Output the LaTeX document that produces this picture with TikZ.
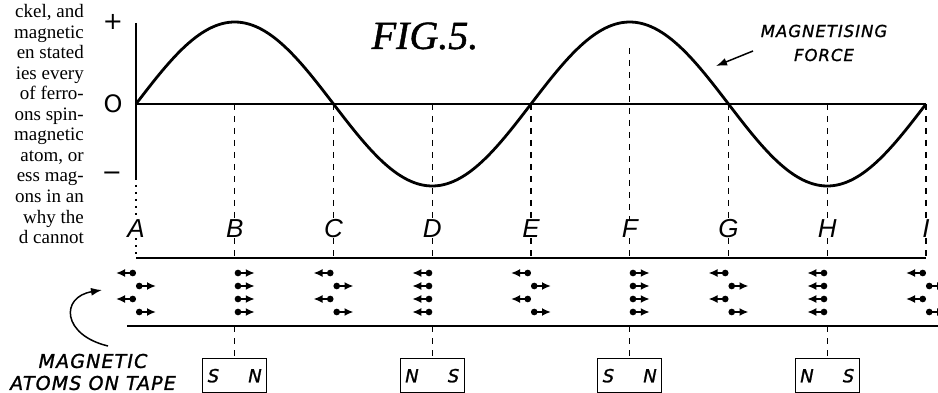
\documentclass[tikz,border=0pt]{standalone}
\usepackage{fontspec}
\setmainfont{Liberation Serif}
\newfontfamily\bodyfont{Liberation Serif}
\newfontfamily\titlefont{Liberation Serif}[FakeBold=1.2]
\newfontfamily\lettering{DejaVu Sans}[LetterSpace=6]
\newfontfamily\heavylettering{DejaVu Sans}[LetterSpace=6, FakeBold=1.2]
\newfontfamily\labelfont{Liberation Sans}
\usetikzlibrary{arrows.meta, positioning}

\begin{document}
\begin{tikzpicture}[x=1pt, y=-1pt,
    axis/.style={line width=1.8pt},
    wave/.style={line width=2.8pt},
    guide/.style={line width=1.1pt, dash pattern=on 6pt off 6pt},
    spin/.style={line width=2.3pt, {Circle[length=6.5pt]}-{Latex[length=9pt, width=8pt]}},
    tape/.style={line width=1.7pt},
    pointer/.style={line width=1.5pt, -{Latex[length=11pt, width=8pt]}},
    magnet/.style={draw, line width=1.4pt, minimum height=34pt, text width=54pt,
                   inner sep=5pt, font=\heavylettering\itshape\fontsize{18}{20}\selectfont},
    station/.style={font=\labelfont\itshape\fontsize{26}{28}\selectfont, inner sep=0pt},
    sign/.style={font=\lettering\fontsize{24}{26}\selectfont, inner sep=0pt},
    caption/.style={align=center, inner sep=0pt},
    colline/.style={anchor=base east, inner sep=0pt, font=\bodyfont\fontsize{19}{21}\selectfont}
  ]
  \useasboundingbox (0,0) rectangle (938,393);

  % cut-off text column on the left
  \foreach \txt [count=\i from 0] in {{ckel, and},{magnetic},{en stated},{ies every},
      {of ferro-},{ons spin-},{magnetic},{atom, or},{ess mag-},{ons in an},{why the},{d cannot}}
    \node[colline] (col-\i) at (84,18+20.5*\i) {\txt};

  % axes and signs
  \draw[axis] (136,23) -- (136,178);
  \draw[axis] (136,104) -- (926,104);
  \node[sign] (plus) at (113,22) {+};
  \node[sign] (zero) at (113,104) {O};
  \node[sign] (minus) at (112,176) {−};

  % magnetising force
  \draw[wave] plot[domain=0:790, samples=240] ({136+\x}, {104-82*sin(\x*0.911392)});

  \node[font=\titlefont\itshape\fontsize{40}{40}\selectfont, inner sep=0pt] (title) at (425,36) {FIG.5.};
  \node[caption, font=\heavylettering\itshape\fontsize{16.5}{24}\selectfont] (mforce) at (824,43)
    {MAGNETISING\\FORCE};
  \coordinate (mtail) at (753,51);
  \coordinate (mhead) at (716,66);
  \draw[pointer] (mtail) -- (mhead);

  % tape
  \draw[tape] (136,258) -- (926,258);
  \draw[tape] (127,326) -- (938,326);

  % positions A..I with the atoms under each
  \foreach \l/\dirs/\top [count=\i from 0] in {A/{-1,1,-1,1}/178, B/{1,1,1,1}/104,
      C/{-1,1,-1,1}/104, D/{-1,-1,-1,-1}/104, E/{-1,1,-1,1}/104, F/{1,1,1,1}/48,
      G/{-1,1,-1,1}/104, H/{-1,-1,-1,-1}/104, I/{-1,1,-1,1}/104} {
    \ifnum\i=0 \tikzset{guide/.style={line width=1.3pt, dash pattern=on 2pt off 5pt}}\fi
    \pgfmathsetmacro\px{136+98.75*\i}
    \node[station] (lbl-\l) at (\px,229) {\l};
    \draw[guide] (\px,\top) -- (lbl-\l.north);
    \draw[guide] (lbl-\l.south) -- (\px,258);
    \foreach \d [count=\r from 0] in \dirs
      \draw[spin] (\px,273+13*\r) -- ++(20*\d,0);
  }

  % recording head magnets
  \foreach \l/\poles [count=\i from 0] in {B/{S\hfill N}, D/{N\hfill S}, F/{S\hfill N}, H/{N\hfill S}} {
    \pgfmathsetmacro\px{234.75+197.5*\i}
    \node[magnet, anchor=north] (box-\l) at (\px,358) {\poles};
    \draw[guide] (\px,326) -- (box-\l.north);
  }

  \node[caption, font=\heavylettering\itshape\fontsize{19}{22}\selectfont] (atoms) at (93,372)
    {MAGNETIC\\ATOMS ON TAPE};
  \coordinate (atail) at (108,346);
  \coordinate (ahead) at (102,290);
  \draw[pointer] (atail) .. controls (62,335) and (60,297) .. (ahead);
\end{tikzpicture}
\end{document}
